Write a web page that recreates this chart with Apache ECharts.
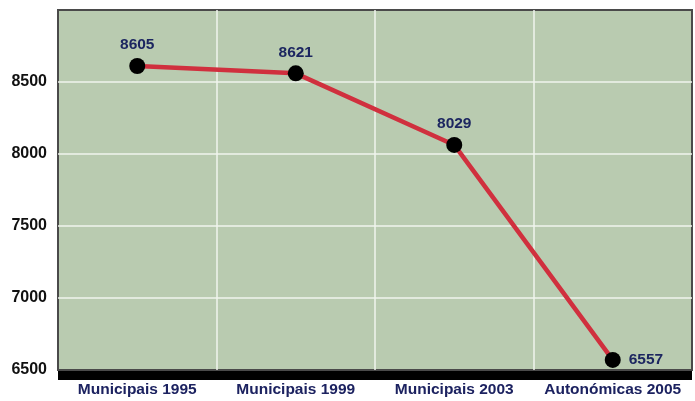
<!DOCTYPE html>
<html>
<head>
<meta charset="utf-8">
<script src="https://cdn.jsdelivr.net/npm/echarts@6/dist/echarts.min.js"></script>
<style>html,body{margin:0;padding:0;background:#fff}#c{width:695px;height:401px}</style>
</head>
<body>
<div id="c"></div>
<script>
var categories = ['Municipais 1995', 'Municipais 1999', 'Municipais 2003', 'Autonómicas 2005'];
var values = [8611, 8560, 8063, 6570];
var valueLabels = ['8605', '8621', '8029', '6557'];
var yTicks = [6500, 7000, 7500, 8000, 8500];

var font = '"Liberation Sans", Arial, sans-serif';
var chart = echarts.init(document.getElementById('c'));
chart.setOption({
  animation: false,
  backgroundColor: '#ffffff',
  grid: {left: 58, right: 3, top: 10, bottom: 31, show: true, backgroundColor: '#b9cbb0', borderColor: '#4a4a4a', borderWidth: 2},
  xAxis: {
    type: 'category', data: categories, boundaryGap: true,
    offset: 5,
    axisLine: {show: true, lineStyle: {color: '#000', width: 9, cap: 'butt'}},
    axisTick: {show: false, interval: 0},
    axisLabel: {interval: 0, margin: 7, color: '#1c2260', fontWeight: 'bold', fontSize: 15.5, fontFamily: font},
    splitLine: {show: true, interval: 0, showMinLine: false, showMaxLine: false, lineStyle: {color: '#f0f4ee', width: 1.5}}
  },
  yAxis: {
    type: 'value', min: 6500, max: 9000, interval: 500,
    axisLine: {show: false}, axisTick: {show: false},
    axisLabel: {margin: 11, color: '#111', fontWeight: 'bold', fontSize: 16, fontFamily: font, showMaxLabel: false,
      formatter: function (v) { return yTicks.indexOf(v) >= 0 ? String(v) : ''; }},
    splitLine: {show: true, showMinLine: false, showMaxLine: false, lineStyle: {color: '#f0f4ee', width: 1.5}}
  },
  series: [{
    type: 'line',
    data: values.map(function (v, i) {
      return i === values.length - 1 ? {value: v, label: {position: 'right', distance: 8}} : v;
    }),
    symbol: 'circle', symbolSize: 16,
    itemStyle: {color: '#000'},
    lineStyle: {color: '#d0303e', width: 4.5},
    label: {
      show: true, position: 'top', distance: 5,
      color: '#1c2660', fontWeight: 'bold', fontSize: 15.5, fontFamily: font,
      formatter: function (p) { return valueLabels[p.dataIndex]; }
    }
  }]
});
</script>
</body>
</html>
